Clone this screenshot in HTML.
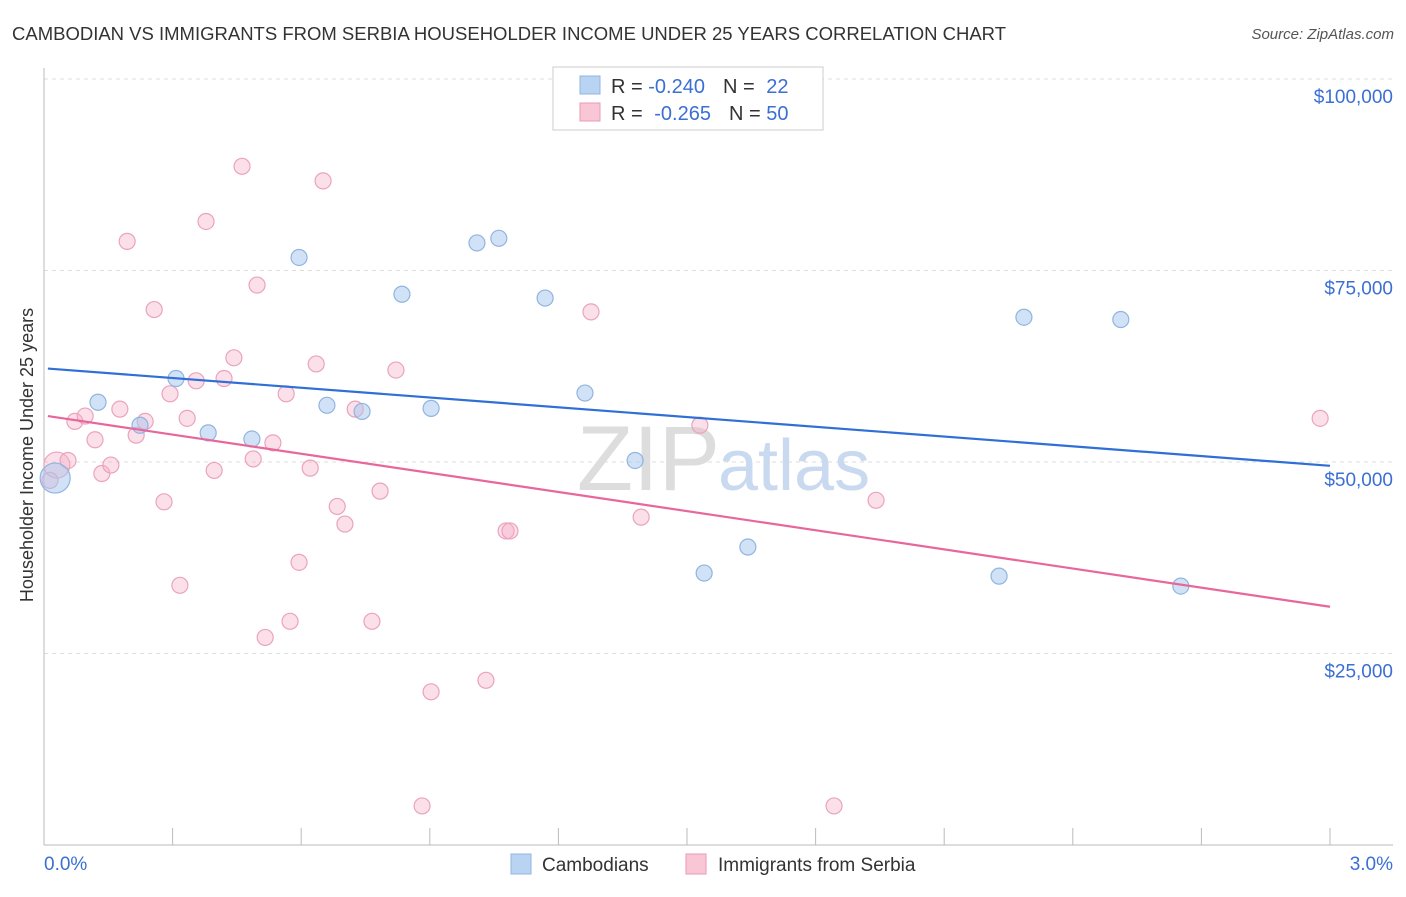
<!DOCTYPE html>
<html><head><meta charset="utf-8"><style>
body{margin:0;background:#fff;font-family:"Liberation Sans",sans-serif}
svg text{font-family:"Liberation Sans",sans-serif}
</style></head><body>
<svg id="chart" width="1406" height="892" viewBox="0 0 1406 892">
<text x="12" y="40" font-size="18.5" fill="#333">CAMBODIAN VS IMMIGRANTS FROM SERBIA HOUSEHOLDER INCOME UNDER 25 YEARS CORRELATION CHART</text>
<text x="1394" y="39" font-size="15" fill="#555" font-style="italic" text-anchor="end">Source: ZipAtlas.com</text>
<g id="grid"></g>
<g id="axes"></g>
<text x="720" y="490" font-size="92" fill="#ddd" text-anchor="end" font-family="Liberation Serif">ZIP</text>
<text x="718" y="490" font-size="72" fill="#c9d9ef">atlas</text>
<g id="marks"></g>
<text transform="translate(33,455) rotate(-90)" font-size="18" fill="#333" text-anchor="middle">Householder Income Under 25 years</text>
<g>
<rect x="553" y="67" width="270" height="63" fill="#fff" stroke="#ccc"/>
<rect x="580" y="76" width="20" height="18" fill="#b9d3f3" stroke="#8fb5e0"/>
<rect x="580" y="103" width="20" height="18" fill="#f9c6d6" stroke="#e89ab5"/>
<text x="611" y="93" font-size="20" fill="#333">R = <tspan fill="#3b6fd4">-0.240</tspan><tspan dx="18">N = </tspan><tspan fill="#3b6fd4" dx="6">22</tspan></text>
<text x="611" y="120" font-size="20" fill="#333">R = <tspan fill="#3b6fd4" dx="6">-0.265</tspan><tspan dx="18">N = </tspan><tspan fill="#3b6fd4">50</tspan></text>
</g>
<g>
<rect x="511" y="854" width="20" height="20" fill="#b9d3f3" stroke="#8fb5e0"/>
<text x="542" y="871" font-size="19" fill="#333">Cambodians</text>
<rect x="686" y="854" width="20" height="20" fill="#f9c6d6" stroke="#e89ab5"/>
<text x="718" y="871" font-size="19" fill="#333">Immigrants from Serbia</text>
</g>
</svg>
<script>
const yTicks=[25000,50000,75000,100000];
const yTickLabels=["$25,000","$50,000","$75,000","$100,000"];
const xTickLabels=["0.0%","3.0%"];
const camX=[0.026,0.126,0.224,0.308,0.383,0.485,0.595,0.660,0.742,0.835,0.903,1.010,1.061,1.169,1.262,1.379,1.540,1.642,2.228,2.286,2.512,2.652];
const camY=[47900,57800,54800,60900,53800,53000,76700,57400,56600,71900,57000,78600,79200,71400,59000,50200,35500,38900,35100,68900,68600,33800];
const camR=[15,8,8,8,8,8,8,8,8,8,8,8,8,8,8,8,8,8,8,8,8,8];
const serX=[0.014,0.030,0.056,0.072,0.096,0.119,0.135,0.156,0.177,0.194,0.215,0.236,0.257,0.280,0.294,0.317,0.334,0.355,0.378,0.397,0.420,0.443,0.462,0.488,0.497,0.516,0.534,0.565,0.574,0.595,0.621,0.635,0.651,0.684,0.702,0.726,0.765,0.784,0.821,0.882,0.903,1.031,1.078,1.087,1.276,1.393,1.530,1.843,1.941,2.977];
const serY=[47600,49600,50200,55300,56000,52900,48500,49600,56900,78800,53500,55300,69900,44800,58900,33900,55700,60600,81400,48900,60900,63600,88600,50400,73100,27100,52500,58900,29200,36900,49200,62800,86700,44200,41900,56900,29200,46200,62000,5100,20000,21500,41000,41000,69600,42800,54800,5100,45000,55700];
const serR=[8,13,8,8,8,8,8,8,8,8,8,8,8,8,8,8,8,8,8,8,8,8,8,8,8,8,8,8,8,8,8,8,8,8,8,8,8,8,8,8,8,8,8,8,8,8,8,8,8,8];
const camTrendX=[0.009,3.0], camTrendY=[62200,49500];
const serTrendX=[0.009,3.0], serTrendY=[56000,31100];

const NS="http://www.w3.org/2000/svg";
const xs=v=>44+v/3*1286;
const ys=v=>845-v/25000*191.5;
function mk(tag,attrs,parent){const e=document.createElementNS(NS,tag);for(const k in attrs)e.setAttribute(k,attrs[k]);parent.appendChild(e);return e;}
const grid=document.getElementById('grid'),axes=document.getElementById('axes'),marks=document.getElementById('marks');
yTicks.forEach((t,i)=>{
 const l=mk('line',{x1:44,x2:1393,y1:ys(t),y2:ys(t),stroke:'#ddd','stroke-dasharray':'4,4'},grid);
 
 
 const tx=mk('text',{x:1393,y:ys(t)+24,'font-size':19,fill:'#3b6fd4','text-anchor':'end'},axes);
 tx.textContent=yTickLabels[i];
 
 
});
mk('line',{x1:44,x2:44,y1:68,y2:845,stroke:'#bbb'},axes);
mk('line',{x1:44,x2:1393,y1:845,y2:845,stroke:'#bbb'},axes);
for(let i=0;i<=10;i++){const x=xs(i*0.3);const t=mk('line',{x1:x,x2:x,y1:828,y2:845,stroke:'#bbb'},axes);
 
 }
const xl0=mk('text',{x:44,y:870,'font-size':19,fill:'#3b6fd4'},axes);xl0.textContent=xTickLabels[0];


const xl1=mk('text',{x:1393,y:870,'font-size':19,fill:'#3b6fd4','text-anchor':'end'},axes);xl1.textContent=xTickLabels[1];


serX.forEach((v,i)=>{const c=mk('circle',{cx:xs(v),cy:ys(serY[i]),r:serR[i],fill:'rgba(246,176,200,0.4)',stroke:'#eba3bd','stroke-width':1.2},marks);
 
 });
camX.forEach((v,i)=>{const c=mk('circle',{cx:xs(v),cy:ys(camY[i]),r:camR[i],fill:'rgba(165,198,238,0.5)',stroke:'#8fb5e0','stroke-width':1.2},marks);
 
 });
const t1=mk('line',{x1:xs(camTrendX[0]),y1:ys(camTrendY[0]),x2:xs(camTrendX[1]),y2:ys(camTrendY[1]),stroke:'#2f6fd6','stroke-width':2.2},marks);


const t2=mk('line',{x1:xs(serTrendX[0]),y1:ys(serTrendY[0]),x2:xs(serTrendX[1]),y2:ys(serTrendY[1]),stroke:'#e8679a','stroke-width':2.2},marks);


</script>
</body></html>
